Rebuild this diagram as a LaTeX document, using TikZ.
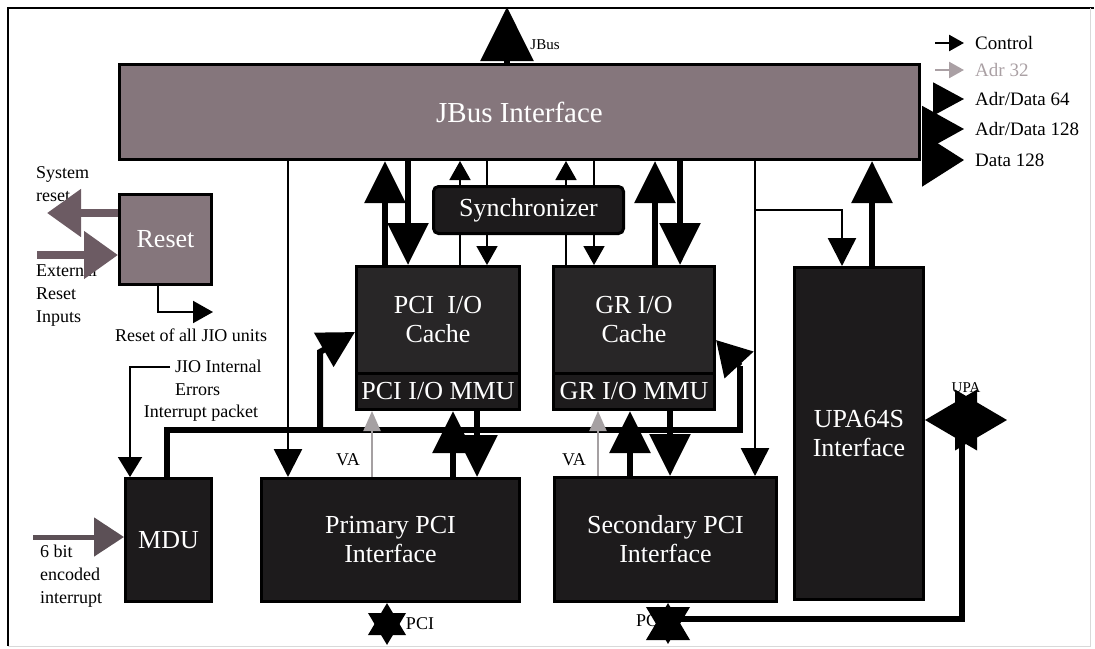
\documentclass[tikz,border=0pt]{standalone}
\usepackage{fontspec}
\setmainfont{Liberation Serif}
\usetikzlibrary{arrows.meta}

\definecolor{busgray}{RGB}{133,118,124}
\definecolor{rstgray}{RGB}{108,91,99}
\definecolor{irqgray}{RGB}{92,80,86}
\definecolor{unitblack}{RGB}{29,27,28}
\definecolor{cacheblack}{RGB}{40,38,39}
\definecolor{vagray}{RGB}{165,160,162}
\definecolor{keygray}{RGB}{170,160,164}

\tikzset{
  unit/.style={draw=black, line width=3pt, fill=unitblack, text=white, anchor=north west,
    align=center, font=\fontsize{26}{29}\selectfont},
  lbl/.style={font=\fontsize{18}{23}\selectfont},
  keylbl/.style={anchor=west, font=\fontsize{19}{21}\selectfont},
  ctl/.style={line width=2.5pt, -{Triangle[length=28pt,width=28pt]}},
  thinarr/.style={line width=1.8pt, -{Triangle[length=19pt,width=21pt]}},
  data/.style={line width=6pt, -{Triangle[length=42pt,width=40pt]}},
  va/.style={vagray, line width=2pt, -{Triangle[length=20pt,width=17pt]}},
  bus/.style={line width=6pt},
  rst/.style={rstgray, line width=8pt, -{Triangle[length=34pt,width=46pt]}},
}

\begin{document}
\begin{tikzpicture}[x=1pt,y=-1pt]
    \tikzstyle{every node}+=[inner sep=0pt]
    \useasboundingbox (0,0) rectangle (1095,648);
    \draw [line width=2.5pt] (1094,8) -- (8,8) -- (8,646);
    \draw [black!15, line width=1pt] (8,646) -- (1090,646) -- (1090,8);

    % free ends
    \coordinate (jbusout) at (507,7);
    \coordinate (sysrst) at (47,213);
    \coordinate (extin) at (37,255);
    \coordinate (rstout) at (213,312);
    \coordinate (errin) at (170,367);
    \coordinate (irqin) at (33,537);
    \coordinate (upabr) at (842,210);
    \coordinate (pcibus1) at (387,645);
    \coordinate (pcibus2) at (668,644);
    \coordinate (pcijoin) at (668,619);
    \coordinate (upaport) at (1007,420);

    % blocks
    \node [unit, fill=busgray, minimum width=800pt, minimum height=95pt,
      font=\fontsize{29}{31}\selectfont] (jbus) at (118,63) {JBus Interface};
    \node [unit, fill=busgray, minimum width=92pt, minimum height=90pt] (reset) at (118,193) {Reset};
    \node [unit, fill=cacheblack, minimum width=163pt, minimum height=107pt] (pcicache) at (355,265) {PCI\ \ I/O\\Cache};
    \node [unit, minimum width=163pt, minimum height=36pt] (pcimmu) at (355,372) {PCI I/O MMU};
    \node [unit, fill=cacheblack, minimum width=161pt, minimum height=107pt] (grcache) at (552,265) {GR I/O\\Cache};
    \node [unit, minimum width=161pt, minimum height=36pt] (grmmu) at (552,372) {GR I/O MMU};
    \node [unit, minimum width=129pt, minimum height=332pt] (upa) at (793,266) {UPA64S\\Interface};
    \node [unit, minimum width=86pt, minimum height=123pt] (mdu) at (124,477) {MDU};
    \node [unit, minimum width=258pt, minimum height=123pt] (primary) at (260,477) {Primary PCI\\Interface};
    \node [unit, minimum width=222pt, minimum height=124pt] (secondary) at (553,476) {Secondary PCI\\Interface};

    % texts
    \node [lbl, anchor=west, align=left] (sysrstlbl) at (36,184) {System\\reset};
    \node [lbl, anchor=west, align=left] (extlbl) at (36,295) {External\\Reset\\Inputs};
    \node [lbl, anchor=west, align=left] (irqlbl) at (40,576) {6 bit\\encoded\\interrupt};
    \node [lbl] (rstalllbl) at (191,335) {Reset of all JIO units};
    \node [lbl, anchor=west, align=left] (jioerr) at (175,378) {JIO Internal\\Errors};
    \node [lbl] (intpkt) at (201,413) {Interrupt packet};
    \node [lbl] (valbl1) at (348,460) {VA};
    \node [lbl] (valbl2) at (574,460) {VA};
    \node [lbl] (pcilbl1) at (420,624) {PCI};
    \node [lbl] (pcilbl2) at (650,621) {PCI};
    \node [lbl, font=\fontsize{15}{17}\selectfont] (upalbl) at (966,388) {UPA};
    \node [lbl, font=\fontsize{15}{17}\selectfont] (jbuslbl) at (545,45) {JBus};

    % reset and interrupts
    \draw [rst] (reset.west |- sysrst) -- (sysrst);
    \draw [rst] (extin) -- (reset.west |- extin);
    \draw [rst, irqgray, line width=5pt, -{Triangle[length=30pt,width=38pt]}] (irqin) -- (mdu.west |- irqin);
    \draw [ctl, line width=2pt, -{Triangle[length=20pt,width=22pt]}] (reset.south -| 158,0) |- (rstout);
    \draw [ctl, line width=2pt, -{Triangle[length=20pt,width=24pt]}] (errin) -| (mdu.north -| 130,0);

    % internal bus
    \draw [bus] (mdu.north -| 167,0) |- (740,430) -- (740,366);
    \draw [bus, -{Triangle[length=34pt,width=38pt]}] (740,366) -- (grcache.east |- 0,340);
    \draw [bus, -{Triangle[length=36pt,width=38pt]}] (320,430) -- (320,352) -- (pcicache.west |- 0,332);

    % jbus links
    \draw [data, -{Triangle[length=54pt,width=52pt]}] (jbus.north -| jbusout) -- (jbusout);
    \draw [ctl] (jbus.south -| 288,0) -- (primary.north -| 288,0);
    \draw [ctl] (jbus.south -| 755,0) -- (secondary.north -| 755,0);
    \draw [ctl] (jbus.south -| 755,0) |- (upabr) -- (upa.north -| upabr);
    \draw [data] (pcicache.north -| 385,0) -- (jbus.south -| 385,0);
    \draw [data] (jbus.south -| 408,0) -- (pcicache.north -| 408,0);
    \draw [thinarr] (pcicache.north -| 460,0) -- (jbus.south -| 460,0);
    \draw [thinarr] (jbus.south -| 487,0) -- (pcicache.north -| 487,0);
    \draw [thinarr] (grcache.north -| 566,0) -- (jbus.south -| 566,0);
    \draw [thinarr] (jbus.south -| 594,0) -- (grcache.north -| 594,0);
    \draw [data] (grcache.north -| 655,0) -- (jbus.south -| 655,0);
    \draw [data] (jbus.south -| 680,0) -- (grcache.north -| 680,0);
    \draw [data] (upa.north -| 872,0) -- (jbus.south -| 872,0);
    \node [unit, rounded corners=5pt, minimum width=190pt, minimum height=47pt] (sync) at (432,185) {Synchronizer};

    % mmu links
    \draw [data] (primary.north -| 453,0) -- (pcimmu.south -| 453,0);
    \draw [data] (pcimmu.south -| 477,0) -- (primary.north -| 477,0);
    \draw [data] (secondary.north -| 630,0) -- (grmmu.south -| 630,0);
    \draw [data] (grmmu.south -| 670,0) -- (secondary.north -| 670,0);
    \draw [va] (primary.north -| 372,0) -- (pcimmu.south -| 372,0);
    \draw [va] (secondary.north -| 598,0) -- (grmmu.south -| 598,0);

    % external ports
    \draw [bus] (pcijoin) -| (upaport -| 962,0);
    \draw [line width=4pt, {Triangle[length=32pt,width=37pt]}-{Triangle[length=32pt,width=37pt]}] (primary.south -| pcibus1) -- (pcibus1);
    \draw [line width=4pt, {Triangle[length=37pt,width=43pt]}-{Triangle[length=37pt,width=43pt]}] (secondary.south -| pcibus2) -- (pcibus2);
    \draw [line width=4pt, {Triangle[length=52pt,width=60pt]}-{Triangle[length=52pt,width=60pt]}] (upa.east |- upaport) -- (upaport);

    % key
    \node [keylbl] (kctl) at (975,43) {Control};
    \node [keylbl, text=keygray] (kadr) at (975,70) {Adr 32};
    \node [keylbl] (kad64) at (975,99) {Adr/Data 64};
    \node [keylbl] (kad128) at (975,129) {Adr/Data 128};
    \node [keylbl] (kd128) at (975,160) {Data 128};
    \draw [line width=2.5pt, -{Triangle[length=15pt,width=16pt]}] ([xshift=-40pt]kctl.west) -- ([xshift=-11pt]kctl.west);
    \draw [keygray, line width=2.5pt, -{Triangle[length=15pt,width=16pt]}] ([xshift=-40pt]kadr.west) -- ([xshift=-11pt]kadr.west);
    \draw [line width=2pt, -{Triangle[length=31pt,width=33pt]}] ([xshift=-42pt]kad64.west) -- ([xshift=-11pt]kad64.west);
    \draw [line width=2pt, -{Triangle[length=42pt,width=46pt]}] ([xshift=-52pt]kad128.west) -- ([xshift=-11pt]kad128.west);
    \draw [line width=2pt, -{Triangle[length=42pt,width=53pt]}] ([xshift=-52pt]kd128.west) -- ([xshift=-11pt]kd128.west);
\end{tikzpicture}
\end{document}
